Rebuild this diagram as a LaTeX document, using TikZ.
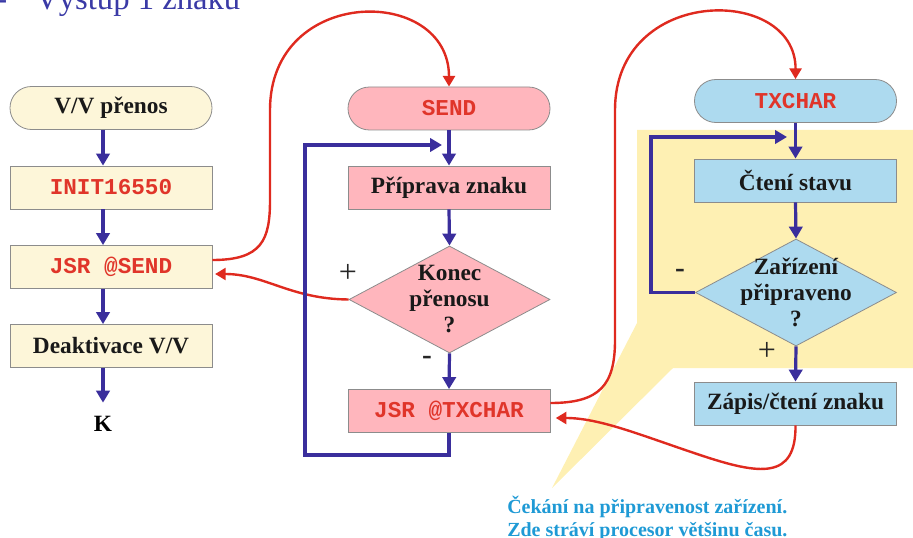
\documentclass[tikz,border=0pt]{standalone}
\usepackage{fontspec}
\setmainfont{Liberation Serif}
\setmonofont{Liberation Mono}
\usetikzlibrary{shapes.geometric,arrows.meta,calc}
\definecolor{cream}{HTML}{FDF6D9}
\definecolor{pinkbox}{HTML}{FFB6BD}
\definecolor{skybox}{HTML}{ADDAEF}
\definecolor{calloutyellow}{HTML}{FEF0B3}
\definecolor{flowblue}{HTML}{3A2E9C}
\definecolor{jumpred}{HTML}{DF2A1F}
\definecolor{codered}{HTML}{E0352A}
\definecolor{titleblue}{HTML}{3A3AA6}
\definecolor{notecyan}{HTML}{1F9AD5}
\definecolor{edgegray}{HTML}{8C8C8C}

\begin{document}
\begin{tikzpicture}[x=0.75pt,y=-0.75pt,
  box/.style={rectangle, draw=edgegray, line width=0.6pt, minimum width=151.5pt,
    minimum height=32.25pt, inner sep=0pt,
    font=\fontsize{17.5}{19.5}\selectfont\bfseries, text=black!90},
  pill/.style={box, rounded corners=16pt},
  dia/.style={diamond, draw=edgegray, line width=0.6pt, minimum width=150.75pt,
    minimum height=80.25pt, inner sep=0pt},
  diatext/.style={align=center, inner sep=0pt,
    font=\fontsize{17.5}{19.5}\selectfont\bfseries, text=black!90},
  code/.style={font=\fontsize{17}{19.5}\selectfont\ttfamily\bfseries, text=codered},
  flow/.style={draw=flowblue, line width=2.4pt, -{Triangle[width=10pt,length=9pt]}},
  jump/.style={draw=jumpred, line width=1.8pt, -{Triangle[width=9pt,length=8pt]}},
  plussign/.style={font=\fontsize{24}{24}\selectfont, text=black!85, inner sep=0pt},
  minussign/.style={font=\fontsize{22}{22}\selectfont\bfseries, text=black!85, inner sep=0pt},
  note/.style={anchor=base west, inner sep=0pt,
    font=\fontsize{15}{17}\selectfont\bfseries, text=notecyan},
]
\useasboundingbox (0,0) rectangle (913,538);

% callout background behind the TXCHAR wait loop
\fill[calloutyellow] (637,130) -- (920,130) -- (920,368) -- (673,368)
  -- (552,488) -- (637,323) -- cycle;

% heading
\node[anchor=base west, inner sep=0pt, font=\fontsize{24.5}{26}\selectfont,
  text=titleblue] (dash) at (-4,10) {-};
\node[anchor=base west, inner sep=0pt, font=\fontsize{24.5}{26}\selectfont,
  text=titleblue] (title) at (35,10) {Výstup 1 znaku};

% main program
\node[pill, fill=cream] (vv) at (111,108) {V/V přenos};
\node[box, fill=cream, code] (init) at (111,187.5) {INIT16550};
\node[box, fill=cream, code] (jsrsend) at (111,267) {JSR @SEND};
\node[box, fill=cream] (deak) at (111,346) {Deaktivace V/V};
\node[inner sep=0pt, font=\fontsize{17.5}{19.5}\selectfont\bfseries, anchor=north]
  (k) at (103,416) {K};

% SEND subroutine
\node[pill, fill=pinkbox, code] (send) at (449,108.5) {SEND};
\node[box, fill=pinkbox] (prip) at (449,187.5) {Příprava znaku};
\node[dia, fill=pinkbox] (konec) at (449.5,299.5) {};
\node[diatext] (konecT) at (konec.center) {Konec\\přenosu\\?};
\node[box, fill=pinkbox, code] (jsrtx) at (449,411) {JSR @TXCHAR};
\node[plussign] (mplus) at (348,273) {+};
\node[minussign] (mminus) at (427,360) {-};

% TXCHAR subroutine
\node[pill, fill=skybox, code] (txchar) at (795.5,101) {TXCHAR};
\node[box, fill=skybox] (cteni) at (795.5,180.5) {Čtení stavu};
\node[dia, fill=skybox] (zar) at (796,292.5) {};
\node[diatext] (zarT) at (zar.center) {Zařízení\\připraveno\\?};
\node[box, fill=skybox] (zap) at (795.5,403.5) {Zápis/čtení znaku};
\node[minussign] (rminus) at (680,273) {-};
\node[plussign] (rplus) at (767,351) {+};

% note below the callout
\node[note] (note1) at (507,513) {Čekání na připravenost zařízení.};
\node[note] (note2) at (507,536) {Zde stráví procesor většinu času.};

% calls and returns
\draw[jump] ([yshift=5.25pt]jsrsend.east) .. controls (262,260) and (270,240) .. (270,200)
  -- (270,110) .. controls (270,-15) and (449,-15) .. (send.north);
\draw[jump] ([yshift=6pt]jsrtx.east) .. controls (600,403) and (615,385) .. (615,340)
  -- (615,110) .. controls (615,-15) and (796,-15) .. (txchar.north);
\draw[jump] (konec.west) .. controls (290,299) and (265,274)
  .. ([yshift=-5.25pt,xshift=2pt]jsrsend.east);
\draw[jump] (zap.south) .. controls (796,480) and (760,475) .. (700,455)
  .. controls (640,435) and (600,418) .. ([yshift=-5.25pt,xshift=4pt]jsrtx.east);

% control flow, main program
\draw[flow] ([xshift=-6pt]vv.south) -- ([xshift=-6pt]init.north);
\draw[flow] ([xshift=-6pt]init.south) -- ([xshift=-6pt]jsrsend.north);
\draw[flow] ([xshift=-6pt]jsrsend.south) -- ([xshift=-6pt]deak.north);
\draw[flow, shorten >=10pt] ([xshift=-6pt]deak.south) -- (k.north);

% control flow, SEND
\coordinate (mloopend) at (442,145);
\draw[flow] (send.south) -- (prip.north);
\draw[flow] (prip.south) -- (konec.north);
\draw[flow] (konec.south) -- (jsrtx.north);
\draw[flow] (jsrtx.south) |- (305,455) |- (mloopend);

% control flow, TXCHAR
\coordinate (rloopend) at (787,137);
\draw[flow] (txchar.south) -- (cteni.north);
\draw[flow] (cteni.south) -- (zar.north);
\draw[flow] (zar.south) -- (zap.north);
\draw[flow] (zar.west) -| (651,137) -- (rloopend);
\end{tikzpicture}
\end{document}
